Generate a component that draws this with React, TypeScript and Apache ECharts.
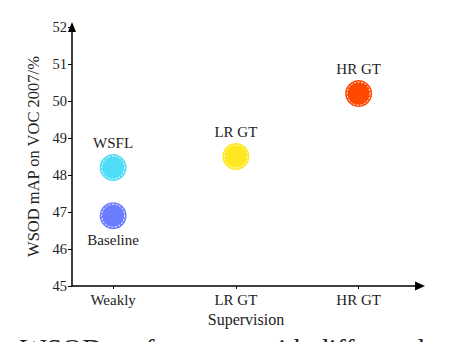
import React, { useEffect, useRef } from "react";
import * as echarts from "echarts";

const categories = ["Weakly", "LR GT", "HR GT"];
const yTicks = [45, 46, 47, 48, 49, 50, 51, 52];
const methods = ["Baseline", "WSFL", "LR GT", "HR GT"];
const methodCategory = [0, 0, 1, 2];
const methodMAP = [46.9, 48.2, 48.5, 50.2];
const methodLabelPos = ["bottom", "top", "top", "top"];
const methodColors = ["#6b7dff", "#4fdcf7", "#ffe81f", "#ff4800"];

const FONT = "'Liberation Serif', 'Times New Roman', serif";

export default function App() {
  const ref = useRef<HTMLDivElement>(null);
  useEffect(() => {
    if (!ref.current) return;
    const chart = echarts.init(ref.current, null, { renderer: "svg" });
    const pts = methods.map((m, i) => ({
      name: m,
      value: [methodCategory[i], methodMAP[i]],
      color: methodColors[i],
      pos: methodLabelPos[i],
    }));
    chart.setOption({
      animation: false,
      textStyle: { fontFamily: FONT },
      grid: { left: 72, right: 36, top: 27, bottom: 64 },
      xAxis: {
        type: "value",
        min: -0.335,
        max: 2.5,
        name: "Supervision",
        nameLocation: "middle",
        nameGap: 24,
        nameTextStyle: { fontFamily: FONT, fontSize: 16, color: "#222" },
        splitLine: { show: false },
        axisLine: {
          show: true,
          onZero: false,
          symbol: ["none", "triangle"],
          symbolSize: [9, 10],
          lineStyle: { color: "#000", width: 1.5 },
        },
        axisTick: {
          show: true,
          customValues: [0, 1, 2],
          length: 3,
          lineStyle: { color: "#000", width: 1 },
        },
        axisLabel: {
          customValues: [0, 1, 2],
          formatter: (v: number) => categories[Math.round(v)] ?? "",
          fontFamily: FONT,
          fontSize: 15,
          color: "#222",
          margin: 6,
        },
      },
      yAxis: {
        type: "value",
        min: yTicks[0],
        max: yTicks[yTicks.length - 1],
        interval: 1,
        name: "WSOD mAP on VOC 2007/%",
        nameLocation: "middle",
        nameGap: 29,
        nameTextStyle: { fontFamily: FONT, fontSize: 16.5, color: "#222" },
        splitLine: { show: false },
        axisLine: {
          show: true,
          onZero: false,
          symbol: ["none", "triangle"],
          symbolSize: [8, 10],
          lineStyle: { color: "#000", width: 1.5 },
        },
        axisTick: { show: true, length: 4, lineStyle: { color: "#000", width: 1 } },
        axisLabel: { fontFamily: FONT, fontSize: 14.5, color: "#222", margin: 5 },
      },
      series: [
        {
          type: "scatter",
          symbolSize: 27,
          data: pts.map((p) => ({
            name: p.name,
            value: p.value,
            itemStyle: { color: p.color, opacity: 1 },
          })),
          z: 2,
        },
        {
          type: "scatter",
          symbolSize: 23,
          data: pts.map((p) => ({
            name: p.name,
            value: p.value,
            itemStyle: {
              color: p.color,
              opacity: 1,
              borderColor: "#ffffff",
              borderWidth: 1,
              borderType: [2, 1.5],
            },
            label: {
              show: true,
              position: p.pos,
              distance: 5,
              formatter: p.name,
              fontFamily: FONT,
              fontSize: 15,
              color: "#222",
            },
          })),
          z: 3,
        },
      ],
      graphic: [
        {
          type: "text",
          left: -6,
          top: -22,
          style: {
            text: "the image weak",
            font: "28px " + FONT,
            fill: "#222",
          },
        },
        {
          type: "text",
          x: 10,
          y: 334,
          style: {
            text: "Figure 1:",
            font: "28px " + FONT,
            fill: "#222",
            align: "right",
            verticalAlign: "top",
          },
        },
        {
          type: "text",
          x: 20,
          y: 334,
          style: {
            text: "WSOD performance with different levels",
            font: "28px " + FONT,
            fill: "#222",
            align: "left",
            verticalAlign: "top",
          },
        },
      ],
    });
    return () => chart.dispose();
  }, []);
  return <div ref={ref} style={{ width: 456, height: 350, margin: -8 }} />;
}
